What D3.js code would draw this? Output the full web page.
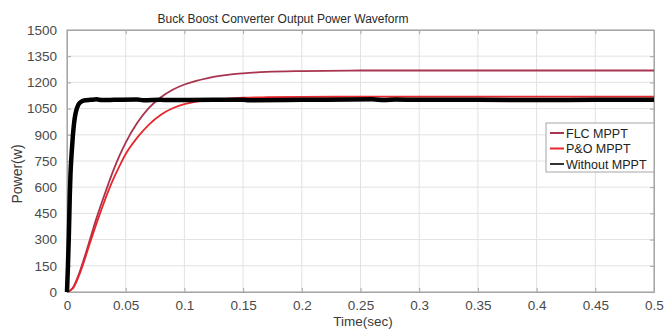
<!DOCTYPE html>
<html>
<head>
<meta charset="utf-8">
<script src="https://cdn.jsdelivr.net/npm/d3@7"></script>
<style>
  body { margin: 0; background: #fff; }
  svg { display: block; font-family: "Liberation Sans", Arial, sans-serif; }
</style>
</head>
<body>
<svg id="chart" width="667" height="329"></svg>
<script>
// values
const xTicks = [0, 0.05, 0.1, 0.15, 0.2, 0.25, 0.3, 0.35, 0.4, 0.45, 0.5];
const xTickLabels = ['0', '0.05', '0.1', '0.15', '0.2', '0.25', '0.3', '0.35', '0.4', '0.45', '0.5'];
const yTicks = [0, 150, 300, 450, 600, 750, 900, 1050, 1200, 1350, 1500];

const flcTime  = [0, 0.005, 0.01, 0.015, 0.02, 0.025, 0.03, 0.035, 0.04, 0.045, 0.05, 0.06, 0.07, 0.08, 0.09, 0.1, 0.11, 0.12, 0.13, 0.14, 0.15, 0.17, 0.2, 0.25, 0.3, 0.5];
const flcPower = [0, 25, 100, 200, 310, 420, 520, 615, 705, 785, 855, 970, 1055, 1115, 1158, 1188, 1209, 1225, 1237, 1246, 1252, 1260, 1265, 1268, 1268, 1268];

const poTime  = [0, 0.005, 0.01, 0.015, 0.02, 0.025, 0.03, 0.035, 0.04, 0.045, 0.05, 0.06, 0.07, 0.08, 0.09, 0.1, 0.11, 0.12, 0.13, 0.14, 0.15, 0.17, 0.2, 0.25, 0.3, 0.5];
const poPower = [0, 20, 90, 185, 290, 390, 485, 575, 655, 725, 790, 885, 960, 1015, 1052, 1075, 1090, 1099, 1105, 1109, 1112, 1115, 1117, 1118, 1118, 1118];

const noTime  = [0, 0.0008, 0.0016, 0.0024, 0.003, 0.004, 0.005, 0.006, 0.007, 0.008, 0.0095, 0.011, 0.013, 0.016, 0.02, 0.025, 0.03, 0.04, 0.06, 0.065, 0.08, 0.1, 0.15, 0.155, 0.2, 0.26, 0.27, 0.28, 0.3, 0.35, 0.4, 0.45, 0.5];
const noPower = [0, 150, 330, 560, 680, 800, 895, 965, 1012, 1042, 1070, 1084, 1093, 1098, 1100, 1103, 1099, 1100, 1102, 1098, 1100, 1099, 1101, 1098, 1100, 1103, 1099, 1102, 1100, 1100, 1099, 1100, 1100];

const seriesNames = ['FLC MPPT', 'P&O MPPT', 'Without MPPT'];
const seriesColors = ['#a8344f', '#e8262b', '#000000'];

const margin = { left: 67, right: 13, top: 30, bottom: 37 };
const W = 667, H = 329;

const svg = d3.select('#chart');

const x = d3.scaleLinear().domain([0, 0.5]).range([margin.left, W - margin.right]);
const y = d3.scaleLinear().domain([0, 1500]).range([H - margin.bottom, margin.top]);

// grid
svg.append('g')
  .selectAll('line')
  .data(xTicks)
  .join('line')
    .attr('x1', d => x(d)).attr('x2', d => x(d))
    .attr('y1', y(0)).attr('y2', y(1500))
    .attr('stroke', '#e2e2e2');

svg.append('g')
  .selectAll('line')
  .data(yTicks)
  .join('line')
    .attr('x1', x(0)).attr('x2', x(0.5))
    .attr('y1', d => y(d)).attr('y2', d => y(d))
    .attr('stroke', '#e2e2e2');

// axes
const xAxis = d3.axisBottom(x).tickValues(xTicks).tickSize(-4).tickPadding(8)
  .tickFormat((d, i) => xTickLabels[i]);
const yAxis = d3.axisLeft(y).tickValues(yTicks).tickSize(-4).tickPadding(10)
  .tickFormat(d3.format('d'));

svg.append('g')
  .attr('transform', 'translate(0,' + y(0) + ')')
  .call(xAxis);
svg.append('g')
  .attr('transform', 'translate(' + x(0) + ',0)')
  .call(yAxis);

// top and right ticks
svg.append('g')
  .attr('transform', 'translate(0,' + y(1500) + ')')
  .call(d3.axisTop(x).tickValues(xTicks).tickSize(-4).tickFormat(''));
svg.append('g')
  .attr('transform', 'translate(' + x(0.5) + ',0)')
  .call(d3.axisRight(y).tickValues(yTicks).tickSize(-4).tickFormat(''));

svg.selectAll('.domain').attr('stroke', '#a6a6a6');
svg.selectAll('.tick line').attr('stroke', '#a6a6a6');
svg.selectAll('.tick text')
  .attr('fill', '#4a4a4a')
  .style('font-size', '13.5px');

// box
svg.append('rect')
  .attr('x', x(0)).attr('y', y(1500))
  .attr('width', x(0.5) - x(0)).attr('height', y(0) - y(1500))
  .attr('fill', 'none').attr('stroke', '#a6a6a6');

// lines
const line = d3.line()
  .x(d => x(d[0]))
  .y(d => y(d[1]))
  .curve(d3.curveMonotoneX);

const series = [
  { t: flcTime, p: flcPower, w: 1.8 },
  { t: poTime, p: poPower, w: 1.8 },
  { t: noTime, p: noPower, w: 4.5 },
];

// black drawn last, it covers the red one on the plateau
series.forEach((s, i) => {
  svg.append('path')
    .datum(s.t.map((t, k) => [t, s.p[k]]))
    .attr('d', line)
    .attr('fill', 'none')
    .attr('stroke', seriesColors[i])
    .attr('stroke-width', s.w)
    .attr('stroke-linejoin', 'round');
});

// title and labels
svg.append('text')
  .attr('x', 283).attr('y', 23)
  .attr('text-anchor', 'middle')
  .attr('fill', '#2a2a2a')
  .style('font-size', '12px')
  .text('Buck Boost Converter Output Power Waveform');

svg.append('text')
  .attr('x', 363).attr('y', 326)
  .attr('text-anchor', 'middle')
  .attr('fill', '#3a3a3a')
  .style('font-size', '13.5px')
  .text('Time(sec)');

svg.append('text')
  .attr('transform', 'translate(22,174) rotate(-90)')
  .attr('text-anchor', 'middle')
  .attr('fill', '#3a3a3a')
  .style('font-size', '14px')
  .text('Power(w)');

// legend
const legend = svg.append('g').attr('transform', 'translate(546,123)');
legend.append('rect')
  .attr('width', 108).attr('height', 49)
  .attr('fill', '#fff').attr('stroke', '#a6a6a6');

seriesNames.forEach((name, i) => {
  const row = legend.append('g').attr('transform', 'translate(0,' + (10 + i * 15.5) + ')');
  row.append('line')
    .attr('x1', 4).attr('x2', 18)
    .attr('stroke', i === 2 ? '#333' : seriesColors[i])
    .attr('stroke-width', 2);
  row.append('text')
    .attr('x', 20).attr('y', 4.5)
    .attr('fill', '#222')
    .style('font-size', '12.5px')
    .text(name);
});
</script>
</body>
</html>
